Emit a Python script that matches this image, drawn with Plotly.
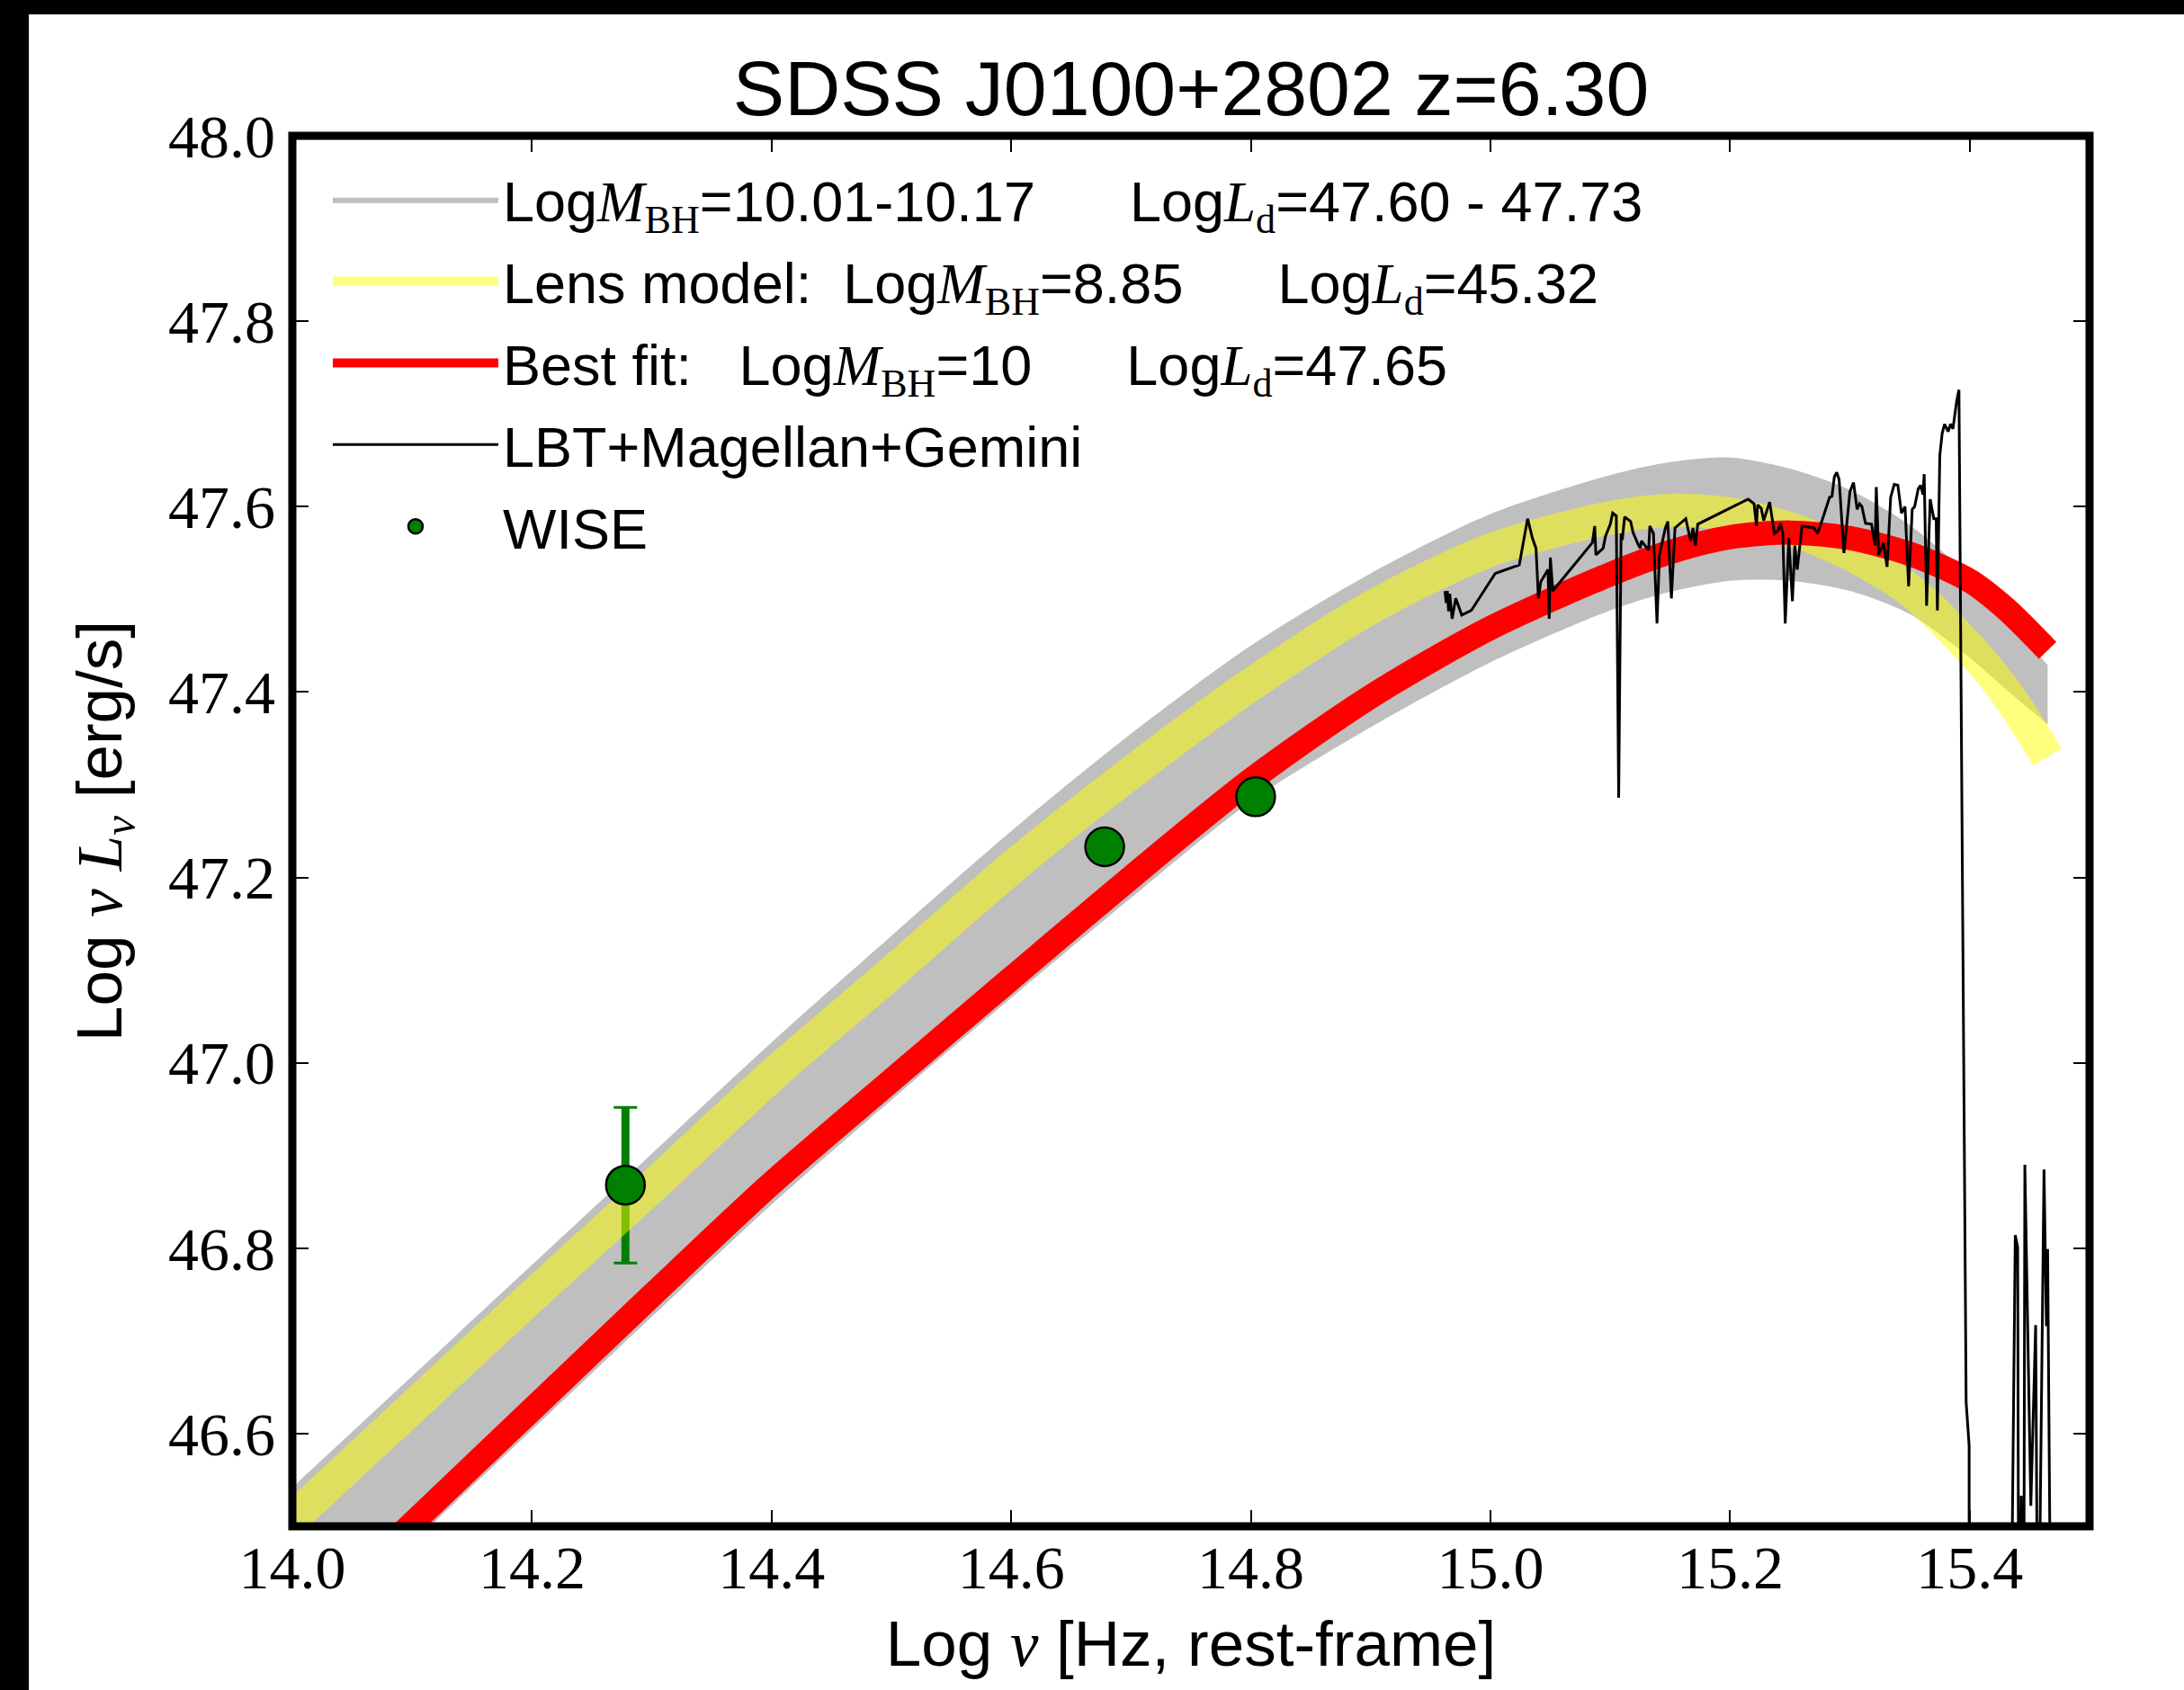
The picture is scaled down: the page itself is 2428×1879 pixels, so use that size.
import plotly.graph_objects as go

# ---------------- data ----------------
nu_model = [13.95, 14.0, 14.1, 14.2, 14.3, 14.4, 14.5, 14.6, 14.7, 14.8, 14.9,
            15.0, 15.1, 15.15, 15.2, 15.25, 15.3, 15.35, 15.4, 15.43, 15.465]
gray_upper = [46.482, 46.542, 46.662, 46.782, 46.902, 47.022, 47.137, 47.250, 47.355, 47.450, 47.528,
              47.592, 47.634, 47.648, 47.653, 47.641, 47.618, 47.580, 47.525, 47.482, 47.429]
gray_lower = [46.300, 46.360, 46.482, 46.604, 46.726, 46.847, 46.960, 47.070, 47.178, 47.282, 47.362,
              47.432, 47.488, 47.508, 47.520, 47.520, 47.509, 47.484, 47.437, 47.403, 47.365]
lens_model = [46.448, 46.508, 46.628, 46.748, 46.866, 46.986, 47.097, 47.210, 47.313, 47.408, 47.491,
              47.553, 47.588, 47.596, 47.592, 47.576, 47.549, 47.510, 47.447, 47.400, 47.330]
best_fit = [46.319, 46.380, 46.503, 46.626, 46.749, 46.870, 46.981, 47.091, 47.200, 47.305, 47.395,
            47.469, 47.527, 47.551, 47.567, 47.572, 47.566, 47.549, 47.520, 47.490, 47.445]

nu_spec = [14.962, 14.963, 14.964, 14.965, 14.966, 14.968, 14.971, 14.976, 14.984, 15.004,
           15.024, 15.031, 15.035, 15.038, 15.040, 15.042, 15.048, 15.049, 15.050, 15.052,
           15.085, 15.087, 15.088, 15.094, 15.096, 15.100, 15.102, 15.105, 15.107, 15.109,
           15.110, 15.112, 15.117, 15.119, 15.123, 15.125, 15.126, 15.132, 15.133, 15.136,
           15.139, 15.141, 15.146, 15.148, 15.151, 15.154, 15.163, 15.167, 15.169, 15.171,
           15.173, 15.215, 15.220, 15.222, 15.223, 15.226, 15.228, 15.233, 15.237, 15.240,
           15.242, 15.244, 15.246, 15.249, 15.252, 15.254, 15.256, 15.260, 15.270, 15.273,
           15.278, 15.283, 15.285, 15.287, 15.289, 15.291, 15.295, 15.300, 15.303, 15.306,
           15.308, 15.310, 15.313, 15.318, 15.321, 15.322, 15.324, 15.328, 15.331, 15.334,
           15.337, 15.340, 15.343, 15.346, 15.349, 15.352, 15.354, 15.357, 15.359, 15.361,
           15.362, 15.364, 15.367, 15.370, 15.372, 15.373, 15.375, 15.377, 15.379, 15.382,
           15.384, 15.386, 15.389, 15.391,
           15.397, 15.3995, 15.3995,
           15.434, 15.438, 15.440, 15.441, 15.443, 15.445, 15.446, 15.451, 15.455, 15.457,
           15.462, 15.464, 15.465, 15.468]
lum_spec = [47.509, 47.496, 47.509, 47.487, 47.506, 47.479, 47.501, 47.483, 47.488, 47.528,
            47.537, 47.587, 47.566, 47.555, 47.501, 47.519, 47.532, 47.479, 47.545, 47.509,
            47.561, 47.579, 47.548, 47.555, 47.568, 47.581, 47.593, 47.590, 47.286, 47.571,
            47.564, 47.589, 47.584, 47.572, 47.560, 47.555, 47.563, 47.553, 47.579, 47.571,
            47.474, 47.548, 47.577, 47.584, 47.501, 47.577, 47.587, 47.563, 47.577, 47.558,
            47.581, 47.608, 47.603, 47.579, 47.602, 47.598, 47.585, 47.605, 47.571, 47.574,
            47.582, 47.571, 47.474, 47.566, 47.498, 47.558, 47.532, 47.579, 47.577, 47.571,
            47.590, 47.610, 47.611, 47.632, 47.637, 47.629, 47.550, 47.616, 47.626, 47.597,
            47.603, 47.600, 47.582, 47.581, 47.558, 47.621, 47.548, 47.561, 47.535, 47.610,
            47.624, 47.623, 47.593, 47.600, 47.514, 47.597, 47.600, 47.619, 47.623, 47.613,
            47.635, 47.493, 47.608, 47.587, 47.587, 47.488, 47.655, 47.679, 47.689, 47.681,
            47.689, 47.684, 47.713, 47.726,
            46.634, 46.587, 46.30,
            46.30, 46.814, 46.801, 46.30, 46.533, 46.30, 46.890, 46.522, 46.717, 46.30,
            46.885, 46.716, 46.799, 46.30]

nu_wise = [14.278, 14.678, 14.804]
lum_wise = [46.868, 47.233, 47.287]
err_wise = [0.084, 0.0, 0.0]

# ---------------- layout constants ----------------
W, H = 2428, 1879
ML, MR, MT, MB = 325, 105, 151, 182
PW, PH = W - ML - MR, H - MT - MB

SERIF = "Liberation Serif"
SANS = "Liberation Sans"
NB = "\u00a0"


def mi(s):
    return f'<span style="font-family:{SERIF};font-style:italic">{s}</span>'


def rm(s):
    return f'<span style="font-family:{SERIF}">{s}</span>'


MBH = f'Log{mi("M")}<sub>{rm("BH")}</sub>'
LD = f'Log{mi("L")}<sub>{rm("d")}</sub>'
name_gray = f'{MBH}=10.01-10.17' + NB * 6 + f'{LD}=47.60 - 47.73'
name_lens = 'Lens model:' + NB * 2 + f'{MBH}=8.85' + NB * 6 + f'{LD}=45.32'
name_best = 'Best fit:' + NB * 3 + f'{MBH}=10' + NB * 6 + f'{LD}=47.65'

SMOOTH = dict(shape="spline", smoothing=0.8)

fig = go.Figure()

# grey range band (filled between lower and upper edge)
fig.add_trace(go.Scatter(
    x=nu_model, y=gray_lower, mode="lines", line=dict(width=0, color="#bfbfbf", **SMOOTH),
    showlegend=False, hoverinfo="skip"))
fig.add_trace(go.Scatter(
    x=nu_model, y=gray_upper, mode="lines", fill="tonexty", fillcolor="#bfbfbf",
    line=dict(width=0, color="#bfbfbf", **SMOOTH),
    name=name_gray, legendgroup="g1", hoverinfo="skip"))

# WISE error bars (drawn below the model lines)
fig.add_trace(go.Scatter(
    x=nu_wise, y=lum_wise, mode="markers", marker=dict(size=1, color="rgba(0,0,0,0)"),
    error_y=dict(type="data", array=err_wise, color="green", thickness=9, width=0),
    showlegend=False, hoverinfo="skip"))
fig.add_trace(go.Scatter(
    x=nu_wise, y=lum_wise, mode="markers", marker=dict(size=1, color="rgba(0,0,0,0)"),
    error_y=dict(type="data", array=err_wise, color="green", thickness=3, width=13),
    showlegend=False, hoverinfo="skip"))

# lens model
fig.add_trace(go.Scatter(
    x=nu_model, y=lens_model, mode="lines",
    line=dict(color="rgba(255,255,0,0.5)", width=37, **SMOOTH),
    name=name_lens, legendgroup="g2"))

# best fit
fig.add_trace(go.Scatter(
    x=nu_model, y=best_fit, mode="lines",
    line=dict(color="red", width=27, **SMOOTH),
    name=name_best, legendgroup="g3"))

# spectrum
fig.add_trace(go.Scatter(
    x=nu_spec, y=lum_spec, mode="lines",
    line=dict(color="black", width=3),
    name="LBT+Magellan+Gemini", legendgroup="g4"))

# WISE photometry
fig.add_trace(go.Scatter(
    x=nu_wise, y=lum_wise, mode="markers",
    marker=dict(size=43, color="green", line=dict(color="black", width=2.5)),
    name="WISE", legendgroup="g5"))

axis_common = dict(
    showgrid=False, zeroline=False, showline=False,
    ticks="inside", ticklen=18, tickwidth=2, tickcolor="black", mirror="ticks",
    tickformat=".1f", dtick=0.2,
    tickfont=dict(family=SERIF, size=68, color="black"),
)

fig.update_layout(
    width=W, height=H,
    margin=dict(l=ML, r=MR, t=MT, b=MB),
    paper_bgcolor="white", plot_bgcolor="white",
    title=dict(text="SDSS J0100+2802 z=6.30", font=dict(family=SANS, size=86, color="black"),
               x=0.5, xref="paper", xanchor="center", y=1 - 98 / H, yref="container", yanchor="middle"),
    xaxis=dict(range=[14.0, 15.5], tick0=14.0, **axis_common,
               title=dict(text=f'Log {mi("ν")} [Hz, rest-frame]',
                          font=dict(family=SANS, size=71, color="black"), standoff=22)),
    yaxis=dict(range=[46.5, 48.0], tick0=46.0, ticklabelstandoff=18, **axis_common,
               title=dict(text=f'Log {mi("ν")} {mi("L")}<sub>{mi("ν")}</sub> [erg/s]',
                          font=dict(family=SANS, size=71, color="black"), standoff=28)),
    legend=dict(x=0.020, y=0.985, xanchor="left", yanchor="top",
                font=dict(family=SANS, size=63, color="black"),
                bgcolor="rgba(0,0,0,0)", tracegroupgap=6, itemwidth=184),
    showlegend=True,
    shapes=[
        # axes frame
        dict(type="rect", xref="paper", yref="paper", x0=0, x1=1, y0=0, y1=1,
             line=dict(color="black", width=9), fillcolor="rgba(0,0,0,0)", layer="above"),
        # black borders of the picture
        dict(type="rect", xref="paper", yref="paper", x0=-ML / PW, x1=(32 - ML) / PW,
             y0=-MB / PH, y1=1 + MT / PH, fillcolor="black", line=dict(width=0), layer="above"),
        dict(type="rect", xref="paper", yref="paper", x0=-ML / PW, x1=1 + MR / PW,
             y0=1 + (MT - 16) / PH, y1=1 + MT / PH, fillcolor="black", line=dict(width=0), layer="above"),
    ],
)

fig.write_html("out.html")
